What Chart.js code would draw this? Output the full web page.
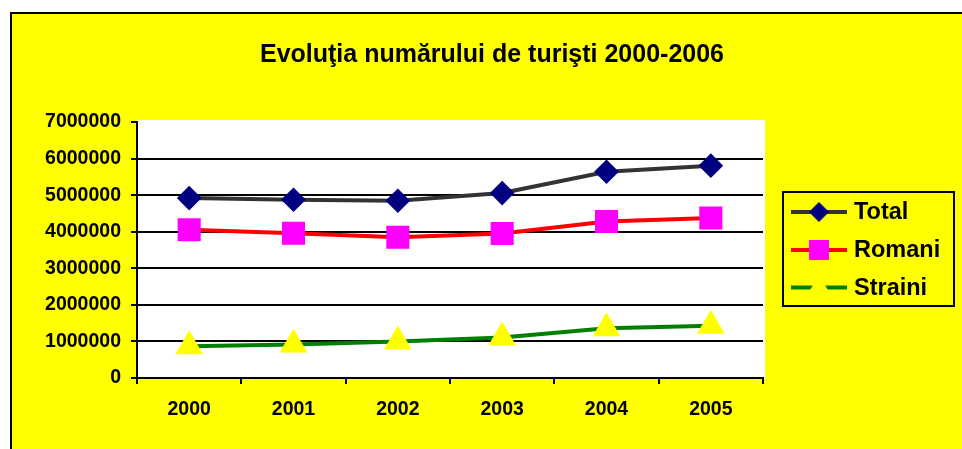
<!DOCTYPE html>
<html>
<head>
<meta charset="utf-8">
<script src="https://cdn.jsdelivr.net/npm/chart.js@4/dist/chart.umd.min.js"></script>
<style>
  html, body { margin: 0; padding: 0; background: #fff; overflow: hidden; }
  #frame {
    position: absolute; left: 10px; top: 12px; width: 1000px; height: 500px;
    border-top: 2px solid #000; border-left: 2px solid #000; background: #ffff00;
  }
  #chart { position: absolute; left: 0; top: 0; }
</style>
</head>
<body>
<div id="frame"><canvas id="chart" width="960" height="435"></canvas></div>
<script>
'use strict';

const years = ['2000', '2001', '2002', '2003', '2004', '2005'];
const total = [4920000, 4875000, 4847000, 5057000, 5639000, 5805000];
const romani = [4053000, 3960000, 3849000, 3952000, 4280000, 4375000];
const straini = [867000, 915000, 998000, 1105000, 1359000, 1430000];
const yTicksMax = 7000000;
const yTickStep = 1000000;

const FONT = "'Liberation Sans', Arial, sans-serif";

// white plot background
const plotBg = {
  id: 'plotBg',
  beforeDraw(chart) {
    const a = chart.chartArea;
    const ctx = chart.ctx;
    ctx.save();
    ctx.fillStyle = '#ffffff';
    ctx.fillRect(a.left, a.top - 2, a.right - a.left + 2, a.bottom - a.top + 2);
    ctx.restore();
  }
};

// boxed legend on the right with line + marker samples
const boxLegend = {
  id: 'boxLegend',
  afterDraw(chart) {
    const ctx = chart.ctx;
    ctx.save();
    ctx.strokeStyle = '#000';
    ctx.lineWidth = 2;
    ctx.strokeRect(771, 178, 171, 114);
    const rows = [198, 236, 273.5];
    chart.data.datasets.forEach((ds, i) => {
      const y = rows[i];
      ctx.strokeStyle = ds.borderColor;
      ctx.lineWidth = 4;
      ctx.beginPath();
      ctx.moveTo(779, y);
      ctx.lineTo(835, y);
      ctx.stroke();
      ctx.fillStyle = ds.pointBackgroundColor;
      ctx.strokeStyle = ds.pointBorderColor;
      ctx.lineWidth = 1;
      Chart.helpers.drawPoint(ctx, { pointStyle: ds.pointStyle, radius: ds.pointRadius, borderWidth: 1, rotation: 0 }, 807, y);
      ctx.fillStyle = '#000';
      ctx.font = 'bold 23.5px ' + FONT;
      ctx.textBaseline = 'middle';
      ctx.textAlign = 'left';
      ctx.fillText(ds.label, 842, y + 1);
    });
    ctx.restore();
  }
};

const tickFont = { family: FONT, size: 19.5, weight: 'bold' };

new Chart(document.getElementById('chart').getContext('2d'), {
  type: 'line',
  data: {
    labels: years,
    datasets: [{
      label: 'Total',
      data: total,
      borderColor: '#333333',
      borderWidth: 4,
      pointStyle: 'rectRot',
      pointRadius: 9.5,
      pointBackgroundColor: '#000080',
      pointBorderColor: '#000080'
    }, {
      label: 'Romani',
      data: romani,
      borderColor: '#ff0000',
      borderWidth: 4,
      pointStyle: 'rect',
      pointRadius: 13.5,
      pointBackgroundColor: '#ff00ff',
      pointBorderColor: '#ff00ff'
    }, {
      label: 'Straini',
      data: straini,
      borderColor: '#008000',
      borderWidth: 4,
      pointStyle: 'triangle',
      pointRadius: 12,
      pointBackgroundColor: '#ffff00',
      pointBorderColor: '#ffff00'
    }]
  },
  options: {
    responsive: false,
    animation: false,
    devicePixelRatio: 1,
    layout: { padding: { top: 0, left: 0, right: 0, bottom: 13.6 } },
    plugins: {
      legend: { display: false },
      tooltip: { enabled: false },
      title: {
        display: true,
        text: 'Evoluţia numărului de turişti 2000-2006',
        color: '#000',
        font: { family: FONT, size: 25, weight: 'bold' },
        padding: { top: 26, bottom: 52 }
      }
    },
    scales: {
      x: {
        offset: true,
        grid: { offset: true, drawOnChartArea: false, color: '#000', lineWidth: 2, tickLength: 6 },
        border: { color: '#000', width: 2 },
        ticks: { color: '#000', font: tickFont, padding: 14 }
      },
      y: {
        min: 0,
        max: yTicksMax,
        ticks: { stepSize: yTickStep, color: '#000', font: tickFont, padding: 10, callback: v => String(v) },
        grid: {
          color: c => (c.tick && c.tick.value === yTicksMax) ? 'rgba(0,0,0,0)' : '#000',
          tickColor: '#000',
          lineWidth: 2,
          tickLength: 6
        },
        border: { color: '#000', width: 2 },
        afterFit(s) { s.width = 125; }
      },
      pad: {
        position: 'right',
        grid: { display: false },
        border: { display: false },
        ticks: { display: false },
        afterFit(s) { s.width = 209; }
      }
    }
  },
  plugins: [plotBg, boxLegend]
});
</script>
</body>
</html>
